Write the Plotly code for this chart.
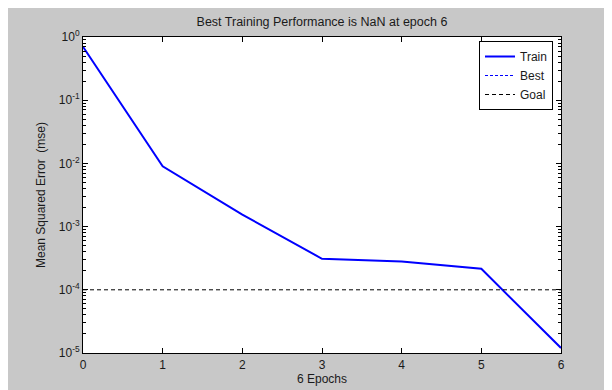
import plotly.graph_objects as go

# Data
epochs = [0, 1, 2, 3, 4, 5, 6]
train_mse = [0.7, 0.0090, 0.00155, 0.00031, 0.00028, 0.000215, 0.000012]
goal_value = 1e-4
best_value = None  # NaN
title_text = "Best Training Performance is NaN at epoch 6"
x_title = "6 Epochs"
y_title = "Mean Squared Error  (mse)"
y_tick_exps = [0, -1, -2, -3, -4, -5]

# the page body adds an 8px offset, so the figure is slightly smaller than the window
W, H = 604, 382
L, R, T, B = 75, 51, 29, 37

fig = go.Figure()
fig.add_trace(go.Scatter(x=epochs, y=train_mse, mode="lines", name="Train",
                         line=dict(color="rgb(0,0,255)", width=2)))
fig.add_trace(go.Scatter(x=[epochs[0], epochs[-1]], y=[best_value, best_value], mode="lines",
                         name="Best", line=dict(color="rgb(0,0,255)", width=1, dash="3px,2px")))
fig.add_trace(go.Scatter(x=[epochs[0], epochs[-1]], y=[goal_value, goal_value], mode="lines",
                         name="Goal", line=dict(color="black", width=1, dash="4px,3px")))

ytickvals = [10 ** e for e in y_tick_exps]
yticktext = ["10<sup>%d</sup>" % e for e in y_tick_exps]
minor_vals = [m * 10 ** e for e in range(-5, 0) for m in range(2, 10)]

font = "Liberation Sans, Arial, sans-serif"
pw, ph = W - L - R, H - T - B

fig.update_layout(
    width=W, height=H,
    margin=dict(l=L, r=R, t=T, b=B, pad=0, autoexpand=False),
    paper_bgcolor="rgb(200,200,200)",
    plot_bgcolor="white",
    font=dict(family=font, size=12, color="#1a1a1a"),
    title=dict(text=title_text, x=(L + pw / 2) / W, xanchor="center",
               y=1 - 14 / H, yanchor="middle", font=dict(size=12.5, color="#1a1a1a")),
    showlegend=True,
    legend=dict(x=(545 - L) / pw, xanchor="right", y=(H - B - 33) / ph, yanchor="top",
                bgcolor="white", bordercolor="black", borderwidth=1,
                font=dict(size=12, color="#1a1a1a"), tracegroupgap=0,
                itemwidth=30),
    xaxis=dict(range=[0, 6], tickmode="array", tickvals=epochs, automargin=False,
               ticks="inside", ticklen=5, tickcolor="black", mirror="ticks",
               showline=True, linecolor="black", linewidth=1, showgrid=False, zeroline=False,
               ticklabelstandoff=1,
               title=dict(text=x_title, standoff=1, font=dict(size=12)),
               tickfont=dict(size=12)),
    yaxis=dict(type="log", range=[-5, 0], tickmode="array", tickvals=ytickvals,
               ticktext=yticktext, ticks="inside", ticklen=5, tickcolor="black",
               mirror="ticks", showline=True, linecolor="black", linewidth=1,
               showgrid=False, zeroline=False, automargin=False,
               minor=dict(tickmode="array", tickvals=minor_vals, ticks="inside",
                          ticklen=3, tickcolor="black", showgrid=False),
               title=dict(text=y_title, standoff=10, font=dict(size=12)),
               tickfont=dict(size=12)),
)

fig.write_html("out.html")
